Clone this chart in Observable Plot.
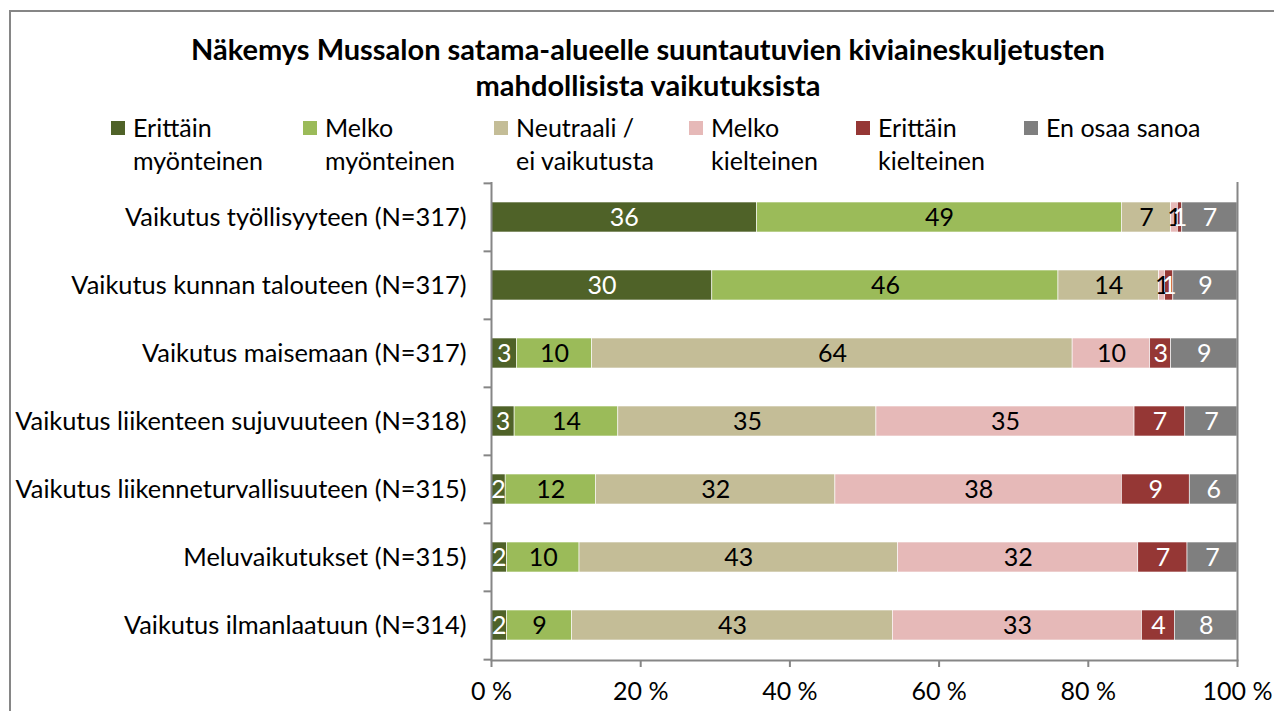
<!DOCTYPE html>
<html>
<head>
<meta charset="utf-8">
<script src="https://cdn.jsdelivr.net/npm/d3@7"></script>
<script src="https://cdn.jsdelivr.net/npm/@observablehq/plot@0.6"></script>
<style>
  html, body { margin: 0; padding: 0; background: #fff; }
  #wrap { position: relative; width: 1274px; height: 711px; overflow: hidden; font-family: Lato, "Open Sans", sans-serif; color: #000; }
  #border { position: absolute; left: 9px; top: 10px; width: 1400px; height: 800px; border-top: 2px solid #868686; border-left: 2px solid #868686; }
  .title { position: absolute; left: 0; width: 1296px; text-align: center; font-weight: bold; font-size: 29px; line-height: 36px; white-space: nowrap; }
  .leg { position: absolute; font-size: 25px; line-height: 33px; white-space: nowrap; }
  .sw { position: absolute; width: 14px; height: 14px; }
  #chart { position: absolute; left: 0; top: 170px; }
</style>
</head>
<body>
<div id="wrap">
  <div id="border"></div>
  <div class="title" style="top:31px">Näkemys Mussalon satama-alueelle suuntautuvien kiviaineskuljetusten</div>
  <div class="title" style="top:67px">mahdollisista vaikutuksista</div>
  <div id="legend"></div>
  <div id="chart"></div>
</div>
<script>
const categories = [
  "Vaikutus työllisyyteen (N=317)",
  "Vaikutus kunnan talouteen (N=317)",
  "Vaikutus maisemaan (N=317)",
  "Vaikutus liikenteen sujuvuuteen (N=318)",
  "Vaikutus liikenneturvallisuuteen (N=315)",
  "Meluvaikutukset (N=315)",
  "Vaikutus ilmanlaatuun (N=314)"
];
const seriesNames = ["Erittäin myönteinen", "Melko myönteinen", "Neutraali / ei vaikutusta", "Melko kielteinen", "Erittäin kielteinen", "En osaa sanoa"];
const legendLines = [["Erittäin", "myönteinen"], ["Melko", "myönteinen"], ["Neutraali /", "ei vaikutusta"], ["Melko", "kielteinen"], ["Erittäin", "kielteinen"], ["En osaa sanoa"]];
const colors = ["#4F6228", "#9BBB59", "#C4BD97", "#E6B9B8", "#953735", "#7F7F7F"];
const labelColors = ["#fff", "#000", "#000", "#000", "#fff", "#fff"];

const erittainMyonteinen = [35.6, 29.6, 3.4, 3.1, 1.9, 2.1, 2.1];
const melkoMyonteinen    = [48.9, 46.4, 10.1, 13.9, 12.1, 9.7, 8.7];
const neutraali          = [6.6, 13.5, 64.4, 34.6, 32.1, 42.7, 43.0];
const melkoKielteinen    = [0.9, 0.8, 10.4, 34.6, 38.4, 32.2, 33.4];
const erittainKielteinen = [0.6, 1.1, 2.8, 6.8, 9.1, 6.6, 4.4];
const enOsaaSanoa        = [7.4, 8.6, 8.9, 7.0, 6.4, 6.7, 8.4];
const xTicks = [0, 0.2, 0.4, 0.6, 0.8, 1];

const seriesValues = [erittainMyonteinen, melkoMyonteinen, neutraali, melkoKielteinen, erittainKielteinen, enOsaaSanoa];
const data = [];
categories.forEach((c, i) => seriesValues.forEach((vals, s) => data.push({cat: c, series: seriesNames[s], si: s, value: vals[i]})));

// legend
const legSquareX = [111, 303, 494, 689, 856, 1024];
const legend = document.getElementById("legend");
legendLines.forEach((lines, i) => {
  const sw = document.createElement("div");
  sw.className = "sw";
  sw.style.left = legSquareX[i] + "px";
  sw.style.top = "121px";
  sw.style.background = colors[i];
  legend.appendChild(sw);
  const t = document.createElement("div");
  t.className = "leg";
  t.style.left = (legSquareX[i] + 22) + "px";
  t.style.top = "111px";
  t.innerHTML = lines.join("<br>");
  legend.appendChild(t);
});

const H = 541, mT = 12, mB = 51;
const step = (H - mT - mB) / categories.length;
const grey = "#868686";
const stackOpts = {x: "value", y: "cat", z: "series", order: seriesNames, offset: "normalize"};

const plot = Plot.plot({
  width: 1274,
  height: H,
  marginLeft: 491,
  marginRight: 37,
  marginTop: mT,
  marginBottom: mB,
  style: {fontFamily: "Lato, 'Open Sans', sans-serif", fontSize: "25px", color: "#000", background: "transparent"},
  x: {domain: [0, 1]},
  y: {domain: categories, paddingInner: 0.56, paddingOuter: 0.28},
  color: {domain: seriesNames, range: colors},
  marks: [
    Plot.barX(data, Plot.stackX({...stackOpts, fill: "series", stroke: "#fff", strokeWidth: 0.6})),
    Plot.ruleX([0, 1], {stroke: grey, strokeWidth: 2}),
    Plot.frame({anchor: "bottom", stroke: grey, strokeWidth: 2}),
    Plot.ruleY(categories, {y: d => d, x1: -0.01, x2: 0, dy: -step / 2, stroke: grey, strokeWidth: 2, clip: false}),
    Plot.ruleY([categories[categories.length - 1]], {y: d => d, x1: -0.01, x2: 0, dy: step / 2, stroke: grey, strokeWidth: 2, clip: false}),
    Plot.text(data, Plot.stackX({...stackOpts, text: d => Math.round(d.value), fill: d => labelColors[d.si], fontSize: 25})),
    Plot.axisX({ticks: xTicks, tickFormat: d => Math.round(d * 100) + " %", tickSize: 7, tickPadding: 15, stroke: grey, strokeWidth: 2, fontSize: 25, label: null}),
    Plot.axisY({tickSize: 0, tickPadding: 25, fontSize: 25.4, label: null})
  ]
});
document.getElementById("chart").appendChild(plot);
</script>
</body>
</html>
